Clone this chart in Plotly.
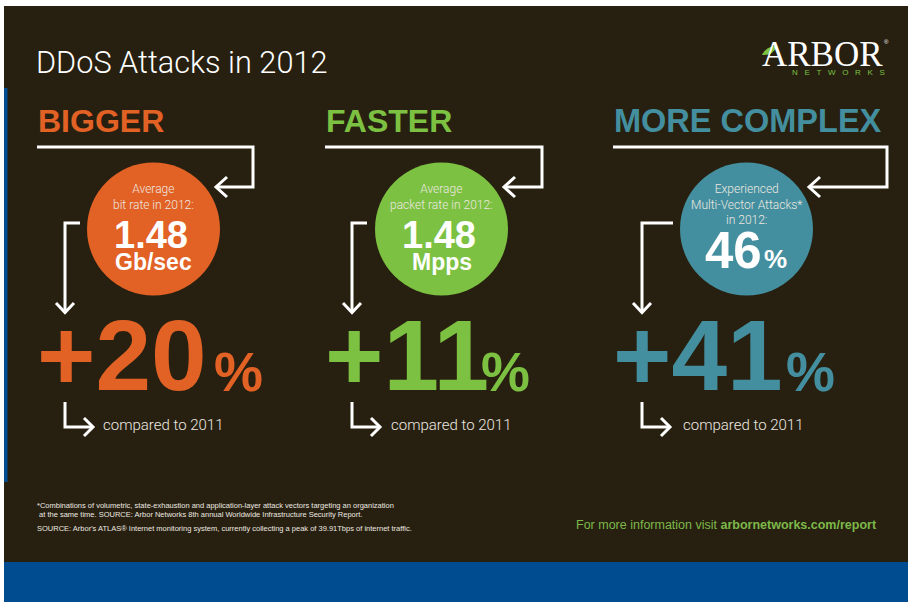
import plotly.graph_objects as go

# ---------------- data ----------------
categories = ["BIGGER", "FASTER", "MORE COMPLEX"]
circle_labels = [
    "Average<br>bit rate in 2012:",
    "Average<br>packet rate in 2012:",
    "Experienced<br>Multi-Vector Attacks*<br>in 2012:",
]
values_2012 = ["1.48", "1.48", "46"]
units_2012 = ["Gb/sec", "Mpps", "%"]
change_vs_2011 = [20, 11, 41]
compare_label = "compared to 2011"
title_text = "DDoS Attacks in 2012"
footnotes = [
    "*Combinations of volumetric, state-exhaustion and application-layer attack vectors targeting an organization",
    " at the same time. SOURCE: Arbor Networks 8th annual Worldwide Infrastructure Security Report.",
    "SOURCE: Arbor's ATLAS\u00ae Internet monitoring system, currently collecting a peak of 39.91Tbps of internet traffic.",
]
more_info = "For more information visit <b>arbornetworks.com/report</b>"
logo_name = "ARBOR"
logo_sub = "NETWORKS"

# ---------------- styles / layout constants ----------------
W, H = 908, 602
BG = "#272010"
BLUE = "#004C91"
COLORS = ["#E26125", "#7CC142", "#448F9F"]
WHITE = "#FFFFFF"
SOFT = "#EDE8E0"
SANS = "Liberation Sans, Arial, sans-serif"
LIGHT = "Roboto, Liberation Sans, Arial, sans-serif"
SERIF = "Liberation Serif, Times New Roman, serif"

col_left = [37, 325, 613]          # left edge of heading / big number
circle_cx = [153.5, 441.5, 746.5]
circle_cy = 229
circle_d = 133
top_right = [253, 542, 887]        # top arrow right edge
top_tip = [216, 504, 809]          # top arrow tip (pointing left)
down_x = [65, 352, 642]            # left down-arrow x
stub_end = [80, 367, 673]
big_pct_x = [212, 479, 784]
compare_x = [101, 389, 681]

fig = go.Figure()

shapes = [
    dict(type="rect", x0=4, x1=W, y0=6, y1=562, fillcolor=BG, line_width=0, layer="below"),
    dict(type="rect", x0=4, x1=W, y0=562, y1=H, fillcolor=BLUE, line_width=0, layer="below"),
    dict(type="rect", x0=4, x1=7.5, y0=88, y1=482, fillcolor=BLUE, line_width=0, layer="below"),
    # logo leaf
    dict(type="path", path="M 762 55 Q 766 46 777 46 Q 773 56 762 55 Z",
         fillcolor="#7CC142", line_width=0, layer="above"),
]
aline = dict(color=WHITE, width=3)
for i in range(3):
    xl, xr, tip, dx = col_left[i], top_right[i], top_tip[i], down_x[i]
    shapes += [
        dict(type="path", path=f"M {xl} 147 L {xr} 147 L {xr} 187 L {tip} 187", line=aline),
        dict(type="path", path=f"M {tip+11} 177 L {tip} 187 L {tip+11} 197", line=aline),
        dict(type="path", path=f"M {stub_end[i]} 223 L {dx} 223 L {dx} 312", line=aline),
        dict(type="path", path=f"M {dx-9} 303 L {dx} 312.5 L {dx+9} 303", line=aline),
        dict(type="path", path=f"M {dx} 402 L {dx} 427 L {dx+28} 427", line=aline),
        dict(type="path", path=f"M {dx+19} 418 L {dx+28} 427 L {dx+19} 436", line=aline),
    ]

# circles
fig.add_trace(go.Scatter(
    x=circle_cx, y=[circle_cy] * 3, mode="markers",
    marker=dict(size=circle_d, color=COLORS, line_width=0),
    hoverinfo="skip", showlegend=False,
))

ann = []
def A(text, x, y, size, color, family=SANS, xanchor="center", weight=None, **kw):
    f = dict(size=size, color=color, family=family)
    if weight is not None:
        f["weight"] = weight
    ann.append(dict(text=text, x=x, y=y, xref="x", yref="y", showarrow=False,
                    xanchor=xanchor, yanchor="middle", font=f, **kw))

A(title_text, 34, 62, 30.7, WHITE, family=LIGHT, xanchor="left", weight=300)

# logo
A(logo_name, 822, 54, 35, WHITE, family=SERIF)
A("\u00ae", 886, 42, 6, WHITE)
A(("\u00a0" * 3).join(logo_sub), 838, 72, 8, "#7CC142")

for i in range(3):
    A(f"<b>{categories[i]}</b>", col_left[i] - 1, 121, 32.5 if i == 2 else 32,
      COLORS[i], xanchor="left")
    cx = circle_cx[i]
    nlines = circle_labels[i].count("<br>") + 1
    A(circle_labels[i], cx, 189 + (nlines - 1) * 7.5, 12, SOFT, family=LIGHT, weight=300)
    if units_2012[i] == "%":
        A(f"<b>{values_2012[i]}</b>", cx - 13, 250, 51, WHITE)
        A(f"<b>{units_2012[i]}</b>", cx + 29, 259, 26, WHITE)
    else:
        A(f"<b>{values_2012[i]}</b>", cx - 3, 235, 38, WHITE)
        A(f"<b>{units_2012[i]}</b>", cx, 262, 23, WHITE)
    A(f"<b>+{change_vs_2011[i]}</b>", col_left[i] - 2, 355, 100, COLORS[i], xanchor="left")
    A("<b>%</b>", big_pct_x[i], 372, 55, COLORS[i], xanchor="left")
    A(compare_label, compare_x[i], 425, 15, SOFT, family=LIGHT, xanchor="left", weight=300)

A(footnotes[0], 35, 505, 7.5, SOFT, xanchor="left")
A(footnotes[1], 35, 514, 7.5, SOFT, xanchor="left")
A(footnotes[2], 35, 528, 7.5, SOFT, xanchor="left")
A(more_info, 879, 525, 12.5, "#7DB849", xanchor="right")

fig.update_layout(
    width=W, height=H, autosize=False,
    margin=dict(l=0, r=0, t=0, b=0, pad=0),
    paper_bgcolor="white", plot_bgcolor="white",
    xaxis=dict(range=[0, W], visible=False, fixedrange=True),
    yaxis=dict(range=[H, 0], visible=False, fixedrange=True),
    shapes=shapes, annotations=ann, showlegend=False,
)
fig.write_html("out.html", config={"displayModeBar": False})
